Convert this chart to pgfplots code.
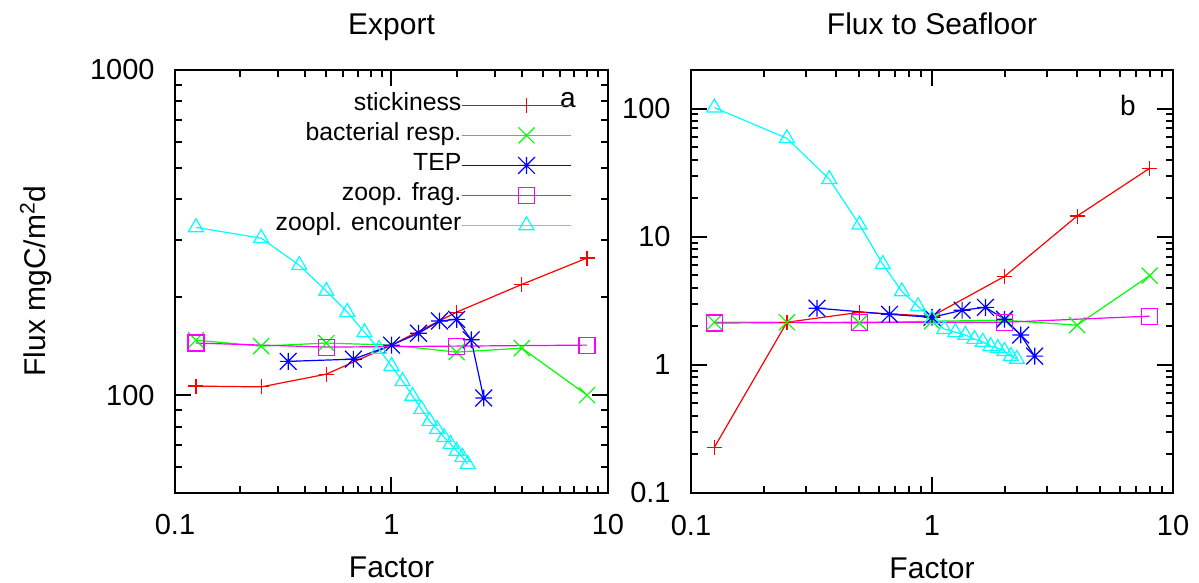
\documentclass[border=0pt]{standalone}
\usepackage{fontspec}
\setmainfont{Liberation Sans}
\usepackage{pgfplots}
\pgfplotsset{compat=1.18}

\definecolor{gpred}{RGB}{255,0,0}
\definecolor{gpgreen}{RGB}{0,255,0}
\definecolor{gpblue}{RGB}{0,0,255}
\definecolor{gpmag}{RGB}{255,0,255}
\definecolor{gpcyan}{RGB}{0,255,255}

\pgfdeclareplotmark{gpx}{%
  \pgfpathmoveto{\pgfqpoint{-\pgfplotmarksize}{-\pgfplotmarksize}}%
  \pgfpathlineto{\pgfqpoint{\pgfplotmarksize}{\pgfplotmarksize}}%
  \pgfpathmoveto{\pgfqpoint{-\pgfplotmarksize}{\pgfplotmarksize}}%
  \pgfpathlineto{\pgfqpoint{\pgfplotmarksize}{-\pgfplotmarksize}}%
  \pgfusepathqstroke}
\pgfdeclareplotmark{gpstar}{%
  \pgfpathmoveto{\pgfqpoint{-\pgfplotmarksize}{0pt}}%
  \pgfpathlineto{\pgfqpoint{\pgfplotmarksize}{0pt}}%
  \pgfpathmoveto{\pgfqpoint{0pt}{-\pgfplotmarksize}}%
  \pgfpathlineto{\pgfqpoint{0pt}{\pgfplotmarksize}}%
  \pgfpathmoveto{\pgfqpoint{-\pgfplotmarksize}{-\pgfplotmarksize}}%
  \pgfpathlineto{\pgfqpoint{\pgfplotmarksize}{\pgfplotmarksize}}%
  \pgfpathmoveto{\pgfqpoint{-\pgfplotmarksize}{\pgfplotmarksize}}%
  \pgfpathlineto{\pgfqpoint{\pgfplotmarksize}{-\pgfplotmarksize}}%
  \pgfusepathqstroke}

\tikzset{
  pst/.style={gpred, line width=0.6pt, mark=+, mark size=3.75pt},
  pbr/.style={gpgreen, line width=0.6pt, mark=gpx, mark size=4pt},
  ptep/.style={gpblue, line width=0.6pt, mark=gpstar, mark size=4.2pt},
  pzf/.style={gpmag, line width=0.6pt, mark=square, mark size=4pt},
  pze/.style={gpcyan, line width=0.6pt, mark=triangle, mark size=4.3pt},
}

\pgfplotsset{
  every axis/.append style={
    scale only axis, height=211.5pt,
    tick align=inside, major tick length=8pt, minor tick length=3.5pt,
    axis line style={line width=1pt},
    every tick/.style={black, line width=1pt},
    log ticks with fixed point,
    /pgf/number format/1000 sep={},
    /pgf/number format/assume math mode=true,
    tick label style={font=\fontsize{14.5}{17}\selectfont},
    xticklabel style={anchor=base, yshift=-21pt, inner sep=0pt},
    yticklabel style={anchor=east, xshift=-10pt, inner sep=0pt},
    label style={font=\fontsize{15}{18}\selectfont},
    title style={font=\fontsize{15}{18}\selectfont, at={(axis description cs:0.5,1)}, anchor=base, yshift=11.5pt},
    xlabel style={at={(axis description cs:0.5,0)}, anchor=base, yshift=-42.5pt},
  },
}

\begin{document}
\begin{tikzpicture}
\useasboundingbox (-87.5pt,-45pt) rectangle (512pt,246.5pt);
\begin{loglogaxis}[width=216.5pt, xmin=0.1, xmax=10, ymin=50, ymax=1000,
  title=Export, xlabel=Factor,
  ylabel={Flux mgC/m\textsuperscript{2}d},
  ylabel style={at={(axis description cs:-0.3002,0.501)}, anchor=base},
  legend cell align=right, legend plot pos=right,
  legend style={draw=none, fill=none, at={(0.9169,0.9527)}, anchor=north east,
    inner sep=0pt, row sep=0pt,
    nodes={inner sep=0pt, text height=10pt, text depth=5pt},
    font=\fontsize{12.4}{15}\selectfont},
  legend image code/.code={\path (0pt,0pt) -- (10pt,0pt);
    \draw[mark repeat=2,mark phase=2,#1] plot coordinates {(10pt,0pt) (32.25pt,0pt) (54.5pt,0pt)};},
]
\addplot[pst] coordinates {(0.125,106.6) (0.25,106) (0.5,116) (1,142.5) (2,180) (4,219) (8,264)};
\addlegendentry{stickiness}
\addplot[pbr] coordinates {(0.125,147.6) (0.25,141.5) (0.5,144.6) (1,142.5) (2,135.6) (4,139.5) (8,100)};
\addlegendentry{bacterial resp.}
\addplot[ptep] coordinates {(0.3333,127) (0.6667,129) (1,142.5) (1.3333,155) (1.6667,169) (2,171) (2.3333,148) (2.6667,98)};
\addlegendentry{TEP}
\addplot[pzf] coordinates {(0.125,144.6) (0.5,140.5) (2,141.5) (8,142.5)};
\addlegendentry{zoop. frag.}
\addplot[pze] coordinates {(0.125,328) (0.25,304) (0.375,251) (0.5,209) (0.625,180) (0.75,156) (0.875,138.6) (1,122.8) (1.125,110.4) (1.25,99.4) (1.375,90.6) (1.5,83.2) (1.625,78.6) (1.75,74.2) (1.875,70.7) (2,67.3) (2.125,64.5) (2.25,61.3)};
\addlegendentry{zoopl. encounter}
\node[font=\fontsize{14}{17}\selectfont, anchor=center] at (rel axis cs:0.9076,0.929) {a};
\end{loglogaxis}
\begin{loglogaxis}[at={(258pt,0pt)}, width=241pt, xmin=0.1, xmax=10, ymin=0.1, ymax=200,
  title=Flux to Seafloor, xlabel=Factor,
]
\addplot[pst] coordinates {(0.125,0.227) (0.25,2.15) (0.5,2.57) (1,2.40) (2,4.9) (4,14.5) (8,34.2)};
\addplot[pbr] coordinates {(0.125,2.15) (0.25,2.15) (0.5,2.12) (1,2.19) (2,2.23) (4,2.04) (8,4.97)};
\addplot[ptep] coordinates {(0.3333,2.77) (0.6667,2.48) (1,2.35) (1.3333,2.67) (1.6667,2.81) (2,2.27) (2.3333,1.71) (2.6667,1.17)};
\addplot[pzf] coordinates {(0.125,2.12) (0.5,2.15) (2,2.15) (8,2.4)};
\addplot[pze] coordinates {(0.125,101.7) (0.25,58.6) (0.375,28.1) (0.5,12.4) (0.625,6.1) (0.75,3.74) (0.875,2.86) (1,2.27) (1.125,1.90) (1.25,1.80) (1.375,1.71) (1.5,1.59) (1.625,1.51) (1.75,1.40) (1.875,1.35) (2,1.28) (2.125,1.17) (2.25,1.11)};
\node[font=\fontsize{14}{17}\selectfont, anchor=center] at (rel axis cs:0.9066,0.916) {b};
\end{loglogaxis}
\end{tikzpicture}
\end{document}
